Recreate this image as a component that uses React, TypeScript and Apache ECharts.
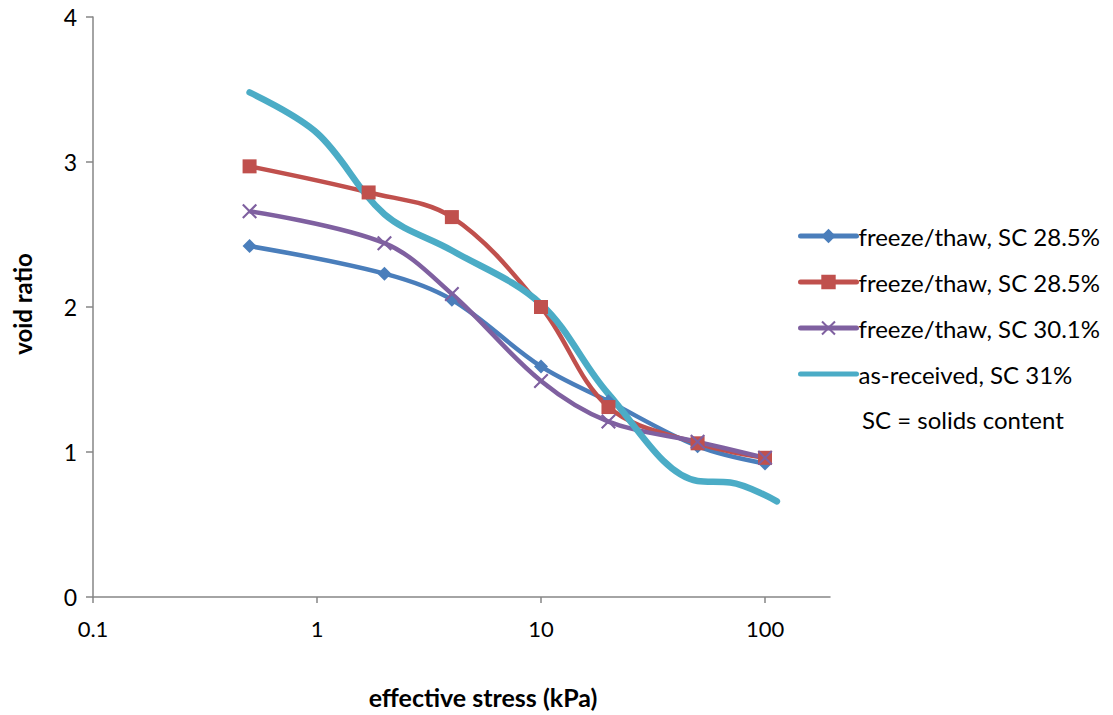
import React, { useEffect, useRef } from "react";
import * as echarts from "echarts";

const seriesNames = [
  "freeze/thaw, SC 28.5%",
  "freeze/thaw, SC 28.5% ",
  "freeze/thaw, SC 30.1%",
  "as-received, SC 31%",
];

const blueX = [0.5, 2, 4, 10, 20, 50, 100];
const blueY = [2.42, 2.23, 2.05, 1.59, 1.35, 1.04, 0.92];

const redX = [0.5, 1.7, 4, 10, 20, 50, 100];
const redY = [2.97, 2.79, 2.62, 2.0, 1.31, 1.06, 0.96];

const purpleX = [0.5, 2, 4, 10, 20, 50, 100];
const purpleY = [2.66, 2.44, 2.09, 1.49, 1.21, 1.07, 0.96];

const cyanX = [0.5, 1, 2, 4, 10, 20, 50, 70, 113];
const cyanY = [3.48, 3.2, 2.64, 2.39, 2.02, 1.4, 0.8, 0.79, 0.66];

const xTicks = [0.1, 1, 10, 100];

const FONT = "Lato";

const zip = (xs: number[], ys: number[]) => xs.map((x, i) => [x, ys[i]]);

const crossPath =
  "path://M0,1 L1,0 L5,4 L9,0 L10,1 L6,5 L10,9 L9,10 L5,6 L1,10 L0,9 L4,5 Z";

export default function App() {
  const ref = useRef<HTMLDivElement>(null);

  useEffect(() => {
    document.body.style.margin = "0";
    if (!ref.current) return;
    const chart = echarts.init(ref.current, undefined, { renderer: "svg" });
    const axisColor = "#868686";
    chart.setOption({
      animation: false,
      backgroundColor: "#ffffff",
      grid: { left: 93, right: 283, top: 17, bottom: 118, containLabel: false },
      xAxis: {
        type: "log",
        logBase: 10,
        min: 0.1,
        max: 195,
        axisLine: { show: true, lineStyle: { color: axisColor, width: 1.5 } },
        axisTick: {
          show: true,
          inside: false,
          length: 6,
          customValues: xTicks,
          lineStyle: { color: axisColor, width: 1.5 },
        },
        minorTick: { show: false },
        splitLine: { show: false },
        axisLabel: {
          customValues: xTicks,
          margin: 20,
          color: "#000",
          fontFamily: FONT,
          fontSize: 22,
          formatter: (v: number) => String(v),
        },
      },
      yAxis: {
        type: "value",
        min: 0,
        max: 4,
        interval: 1,
        axisLine: { show: true, lineStyle: { color: axisColor, width: 1.5 } },
        axisTick: { show: true, inside: false, length: 7, lineStyle: { color: axisColor, width: 1.5 } },
        splitLine: { show: false },
        axisLabel: { margin: 16, color: "#000", fontFamily: FONT, fontSize: 23 },
      },
      legend: {
        orient: "vertical",
        left: 793,
        top: 219,
        itemWidth: 56,
        itemHeight: 18,
        itemGap: 22,
        lineStyle: { width: 5, cap: "round" },
        textStyle: {
          fontFamily: FONT,
          fontSize: 24,
          color: "#000",
          lineHeight: 24,
          padding: [0, 0, 0, -3],
        },
        formatter: (n: string) => n.trim(),
        data: seriesNames.map((n) => ({ name: n })),
      },
      graphic: [
        {
          type: "text",
          x: 862,
          y: 419,
          style: {
            text: "SC = solids content",
            font: `24px ${FONT}`,
            fill: "#000",
            verticalAlign: "middle",
          },
        },
        {
          type: "text",
          x: 483,
          y: 697,
          style: {
            text: "effective stress (kPa)",
            font: `bold 25px ${FONT}`,
            fill: "#000",
            align: "center",
            verticalAlign: "middle",
          },
        },
        {
          type: "text",
          x: 22,
          y: 304,
          rotation: Math.PI / 2,
          style: {
            text: "void ratio",
            font: `bold 24px ${FONT}`,
            fill: "#000",
            align: "center",
            verticalAlign: "middle",
          },
        },
      ],
      series: [
        {
          name: seriesNames[0],
          type: "line",
          smooth: 0.35,
          data: zip(blueX, blueY),
          symbol: "diamond",
          symbolSize: 14,
          lineStyle: { color: "#4A7EBB", width: 4.5 },
          itemStyle: { color: "#4A7EBB" },
        },
        {
          name: seriesNames[1],
          type: "line",
          smooth: 0.35,
          data: zip(redX, redY),
          symbol: "rect",
          symbolSize: 14,
          lineStyle: { color: "#C0504D", width: 4.5 },
          itemStyle: { color: "#C0504D" },
        },
        {
          name: seriesNames[2],
          type: "line",
          smooth: 0.35,
          data: zip(purpleX, purpleY),
          symbol: crossPath,
          symbolSize: 15,
          lineStyle: { color: "#7F60A0", width: 4.5 },
          itemStyle: { color: "#7F60A0" },
        },
        {
          name: seriesNames[3],
          type: "line",
          smooth: 0.35,
          data: zip(cyanX, cyanY),
          symbol: "none",
          showSymbol: false,
          lineStyle: { color: "#4BACC6", width: 6.5, cap: "round" },
          itemStyle: { color: "rgba(0,0,0,0)" },
        },
      ],
    });
    return () => chart.dispose();
  }, []);

  return <div ref={ref} style={{ width: 1113, height: 715 }} />;
}
